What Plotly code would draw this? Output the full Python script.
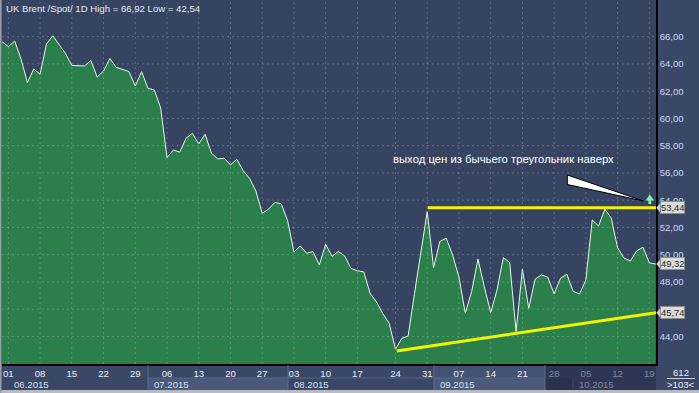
import plotly.graph_objects as go

# ---- data (trading-day index -> Brent spot close) ----
day_index = list(range(-1, 103))
prices = [
    65.63, 65.27, 65.68, 64.36, 62.63, 63.63, 63.24, 65.46, 66.07, 65.45,
    64.77, 63.89, 63.85, 63.85, 64.25, 63.04, 63.48, 64.40, 63.75, 63.59,
    63.44, 62.38, 63.43, 62.21, 62.09, 60.77, 57.12, 57.69, 57.52, 58.55,
    58.91, 58.13, 58.84, 57.45, 57.03, 57.08, 56.59, 57.00, 56.17, 55.61,
    54.68, 53.04, 53.34, 53.84, 53.73, 52.51, 50.20, 50.64, 50.11, 50.23,
    49.25, 50.77, 49.87, 50.24, 49.90, 48.99, 48.82, 48.74, 47.17, 46.54,
    45.68, 44.97, 43.07, 43.86, 44.04, 47.17, 50.13, 53.16, 49.05, 50.98,
    51.21, 49.98, 48.35, 45.71, 47.29, 49.69, 47.64, 45.75, 47.42, 49.79,
    49.42, 44.36, 48.94, 46.07, 48.20, 48.52, 48.35, 47.12, 48.27, 48.57,
    47.31, 47.12, 48.15, 52.55, 52.11, 53.34, 52.68, 50.50, 49.76, 49.54,
    50.28, 50.55, 49.40, 49.32,
]

# trend lines (triangle)
upper_x = [66.1, 102.05]
upper_y = [53.44, 53.44]
lower_x = [61.2, 102.05]
lower_y = [42.94, 45.74]

# x tick positions / labels (weekly, Mondays)
x_tick_idx = [0, 5, 10, 15, 20, 25, 30, 35, 40, 45, 50, 55, 61, 66, 71, 76, 81, 86, 91, 96, 101]
x_tick_txt = ["01", "08", "15", "22", "29", "06", "13", "20", "27", "03", "10", "17",
              "24", "31", "07", "14", "21", "28", "05", "12", "19"]
dim_ticks = {"28", "05", "12", "19"}

y_ticks = [44, 46, 48, 50, 52, 54, 56, 58, 60, 62, 64, 66]
y_tick_txt = ["%d,00" % v for v in y_ticks]

price_tags = [53.44, 49.32, 45.74]
price_tag_txt = ["53,44", "49,32", "45,74"]

months = ["06.2015", "07.2015", "08.2015", "09.2015", "10.2015"]

title_txt = "UK Brent /Spot/ 1D High = 66,92 Low = 42,54"
note_txt = "выход цен из бычьего треугольник наверх"

# ---- geometry helpers (pixel -> paper) ----
L, R, T, B = 2, 43, 0, 29
W, H = 699, 393
PW, PH = W - L - R, H - T - B
Y0, Y1 = 41.98, 68.69


def px(x):
    return (x - L) / PW


def py(y):
    return (H - B - y) / PH


FONT = "Liberation Sans, Arial, sans-serif"

fig = go.Figure()
fig.add_trace(go.Scatter(
    x=day_index, y=prices, mode="lines", fill="tozeroy",
    fillcolor="#2b7f4b", line=dict(color="#e4fbe4", width=1), hoverinfo="skip",
))
fig.add_trace(go.Scatter(x=upper_x, y=upper_y, mode="lines",
                         line=dict(color="#f4f400", width=3), hoverinfo="skip"))
fig.add_trace(go.Scatter(x=lower_x, y=lower_y, mode="lines",
                         line=dict(color="#f4f400", width=3), hoverinfo="skip"))

shapes = []
grid_col = "rgba(200,215,240,0.28)"
for xi in x_tick_idx:
    shapes.append(dict(type="line", xref="x", yref="paper", x0=xi, x1=xi, y0=0, y1=1,
                       layer="above", line=dict(color=grid_col, width=1, dash="2px,3px")))
for yv in y_ticks:
    shapes.append(dict(type="line", xref="paper", yref="y", x0=0, x1=1, y0=yv, y1=yv,
                       layer="above", line=dict(color=grid_col, width=1, dash="2px,3px")))


def rect(x0, y0, x1, y1, color):
    shapes.append(dict(type="rect", xref="paper", yref="paper",
                       x0=px(x0), x1=px(x1), y0=py(y1), y1=py(y0),
                       line=dict(width=0), fillcolor=color, layer="below"))


rect(148, 378, 288, 390, "#4a5879")
rect(434, 365, 545, 378, "#435172")
rect(434, 378, 545, 390, "#4b597a")
rect(545, 365, 656, 390, "#2d3753")
rect(545, 378, 573, 390, "#29324c")
rect(0, 390, 699, 393, "#b6bac2")
rect(0, 0, 1.5, 393, "#98a0ae")


def vline(x, y0, y1, color, width=1):
    shapes.append(dict(type="line", xref="paper", yref="paper", x0=px(x), x1=px(x),
                       y0=py(y0), y1=py(y1), line=dict(color=color, width=width)))


for xs in [148, 288, 434, 545]:
    vline(xs, 365, 390, "#5c6b8a")
vline(573, 378, 390, "#3c4764")
shapes.append(dict(type="line", xref="paper", yref="paper", x0=px(148), x1=px(545),
                   y0=py(378), y1=py(378), line=dict(color="#56648a", width=1)))
shapes.append(dict(type="line", xref="paper", yref="paper", x0=px(667), x1=px(695),
                   y0=py(378.5), y1=py(378.5), line=dict(color="#c8d0e0", width=1)))

# white pointer triangle
tri = "M %f %f L %f %f L %f %f Z" % (px(567.3), py(175), px(567.3), py(184.5), px(643.5), py(201))
shapes.append(dict(type="path", xref="paper", yref="paper", path=tri,
                   fillcolor="#ffffff", line=dict(color="#000000", width=1)))

# green up arrow
arr = "M %f %f L %f %f L %f %f L %f %f L %f %f L %f %f L %f %f Z" % (
    px(645.5), py(200.5), px(649.8), py(194.5), px(654.1), py(200.5),
    px(651.2), py(200.5), px(651.2), py(204), px(648.4), py(204), px(648.4), py(200.5))
shapes.append(dict(type="path", xref="paper", yref="paper", path=arr,
                   fillcolor="#86f2a6", line=dict(width=0)))

# price tag pointers
for v in price_tags:
    dv = 4.2 * (Y1 - Y0) / PH
    p = "M %f %f L %f %f L %f %f Z" % (px(656.5), v, px(660), v + dv, px(660), v - dv)
    shapes.append(dict(type="path", xref="paper", yref="y", path=p,
                       fillcolor="#dcdcd2", line=dict(color="#8a9090", width=0.5)))

annotations = []
annotations.append(dict(xref="paper", yref="paper", x=px(4), y=py(8.5), xanchor="left",
                        yanchor="middle", text=title_txt, showarrow=False,
                        font=dict(family=FONT, size=9.6, color="#e6ebf3")))
annotations.append(dict(xref="paper", yref="paper", x=px(391), y=py(158.5), xanchor="left",
                        yanchor="middle", text=note_txt, showarrow=False,
                        font=dict(family=FONT, size=11.3, color="#ffffff")))
for v, t in zip(price_tags, price_tag_txt):
    annotations.append(dict(xref="paper", yref="y", x=px(659.5), y=v, xanchor="left",
                            yanchor="middle", text=t, showarrow=False,
                            bgcolor="#dcdcd2", bordercolor="#8a9090", borderwidth=1,
                            borderpad=0, font=dict(family=FONT, size=9.4, color="#1c2838")))

month_px = [12, 152, 292, 438, 577]
for m, mx in zip(months, month_px):
    col = "#7f8ba3" if m == "10.2015" else "#d8e0ee"
    annotations.append(dict(xref="paper", yref="paper", x=px(mx), y=py(384), xanchor="left",
                            yanchor="middle", text=m, showarrow=False,
                            font=dict(family=FONT, size=9.6, color=col)))
annotations.append(dict(xref="paper", yref="paper", x=px(681), y=py(372.5), xanchor="center",
                        yanchor="middle", text="612", showarrow=False,
                        font=dict(family=FONT, size=9.6, color="#e8eef8")))
annotations.append(dict(xref="paper", yref="paper", x=px(681), y=py(384.5), xanchor="center",
                        yanchor="middle", text="&gt;103&lt;", showarrow=False,
                        font=dict(family=FONT, size=9.6, color="#e8eef8")))

tick_txt = [("<span style='color:#7f8ba3'>%s</span>" % t) if t in dim_ticks and i >= 17 else t
            for i, t in enumerate(x_tick_txt)]

fig.update_layout(
    width=W, height=H,
    margin=dict(l=L, r=R, t=T, b=B, pad=0),
    paper_bgcolor="#3a4766",
    plot_bgcolor="#364462",
    showlegend=False,
    shapes=shapes,
    annotations=annotations,
    font=dict(family=FONT),
    xaxis=dict(range=[-1, 102.05], tickvals=x_tick_idx, ticktext=tick_txt, ticks="",
               showgrid=False, zeroline=False, showline=True, linecolor="#000000",
               linewidth=1.5, tickfont=dict(family=FONT, size=9.6, color="#e8eef8"),
               fixedrange=True),
    yaxis=dict(range=[Y0, Y1], side="right", tickvals=y_ticks, ticktext=y_tick_txt,
               ticks="", showgrid=False, zeroline=False, showline=True,
               linecolor="#000000", linewidth=1.5,
               tickfont=dict(family=FONT, size=9.6, color="#c6daf4"), fixedrange=True),
)

fig.write_html("out.html", config={"displayModeBar": False},
               post_script="document.body.style.margin='0';document.body.style.overflow='hidden';")
